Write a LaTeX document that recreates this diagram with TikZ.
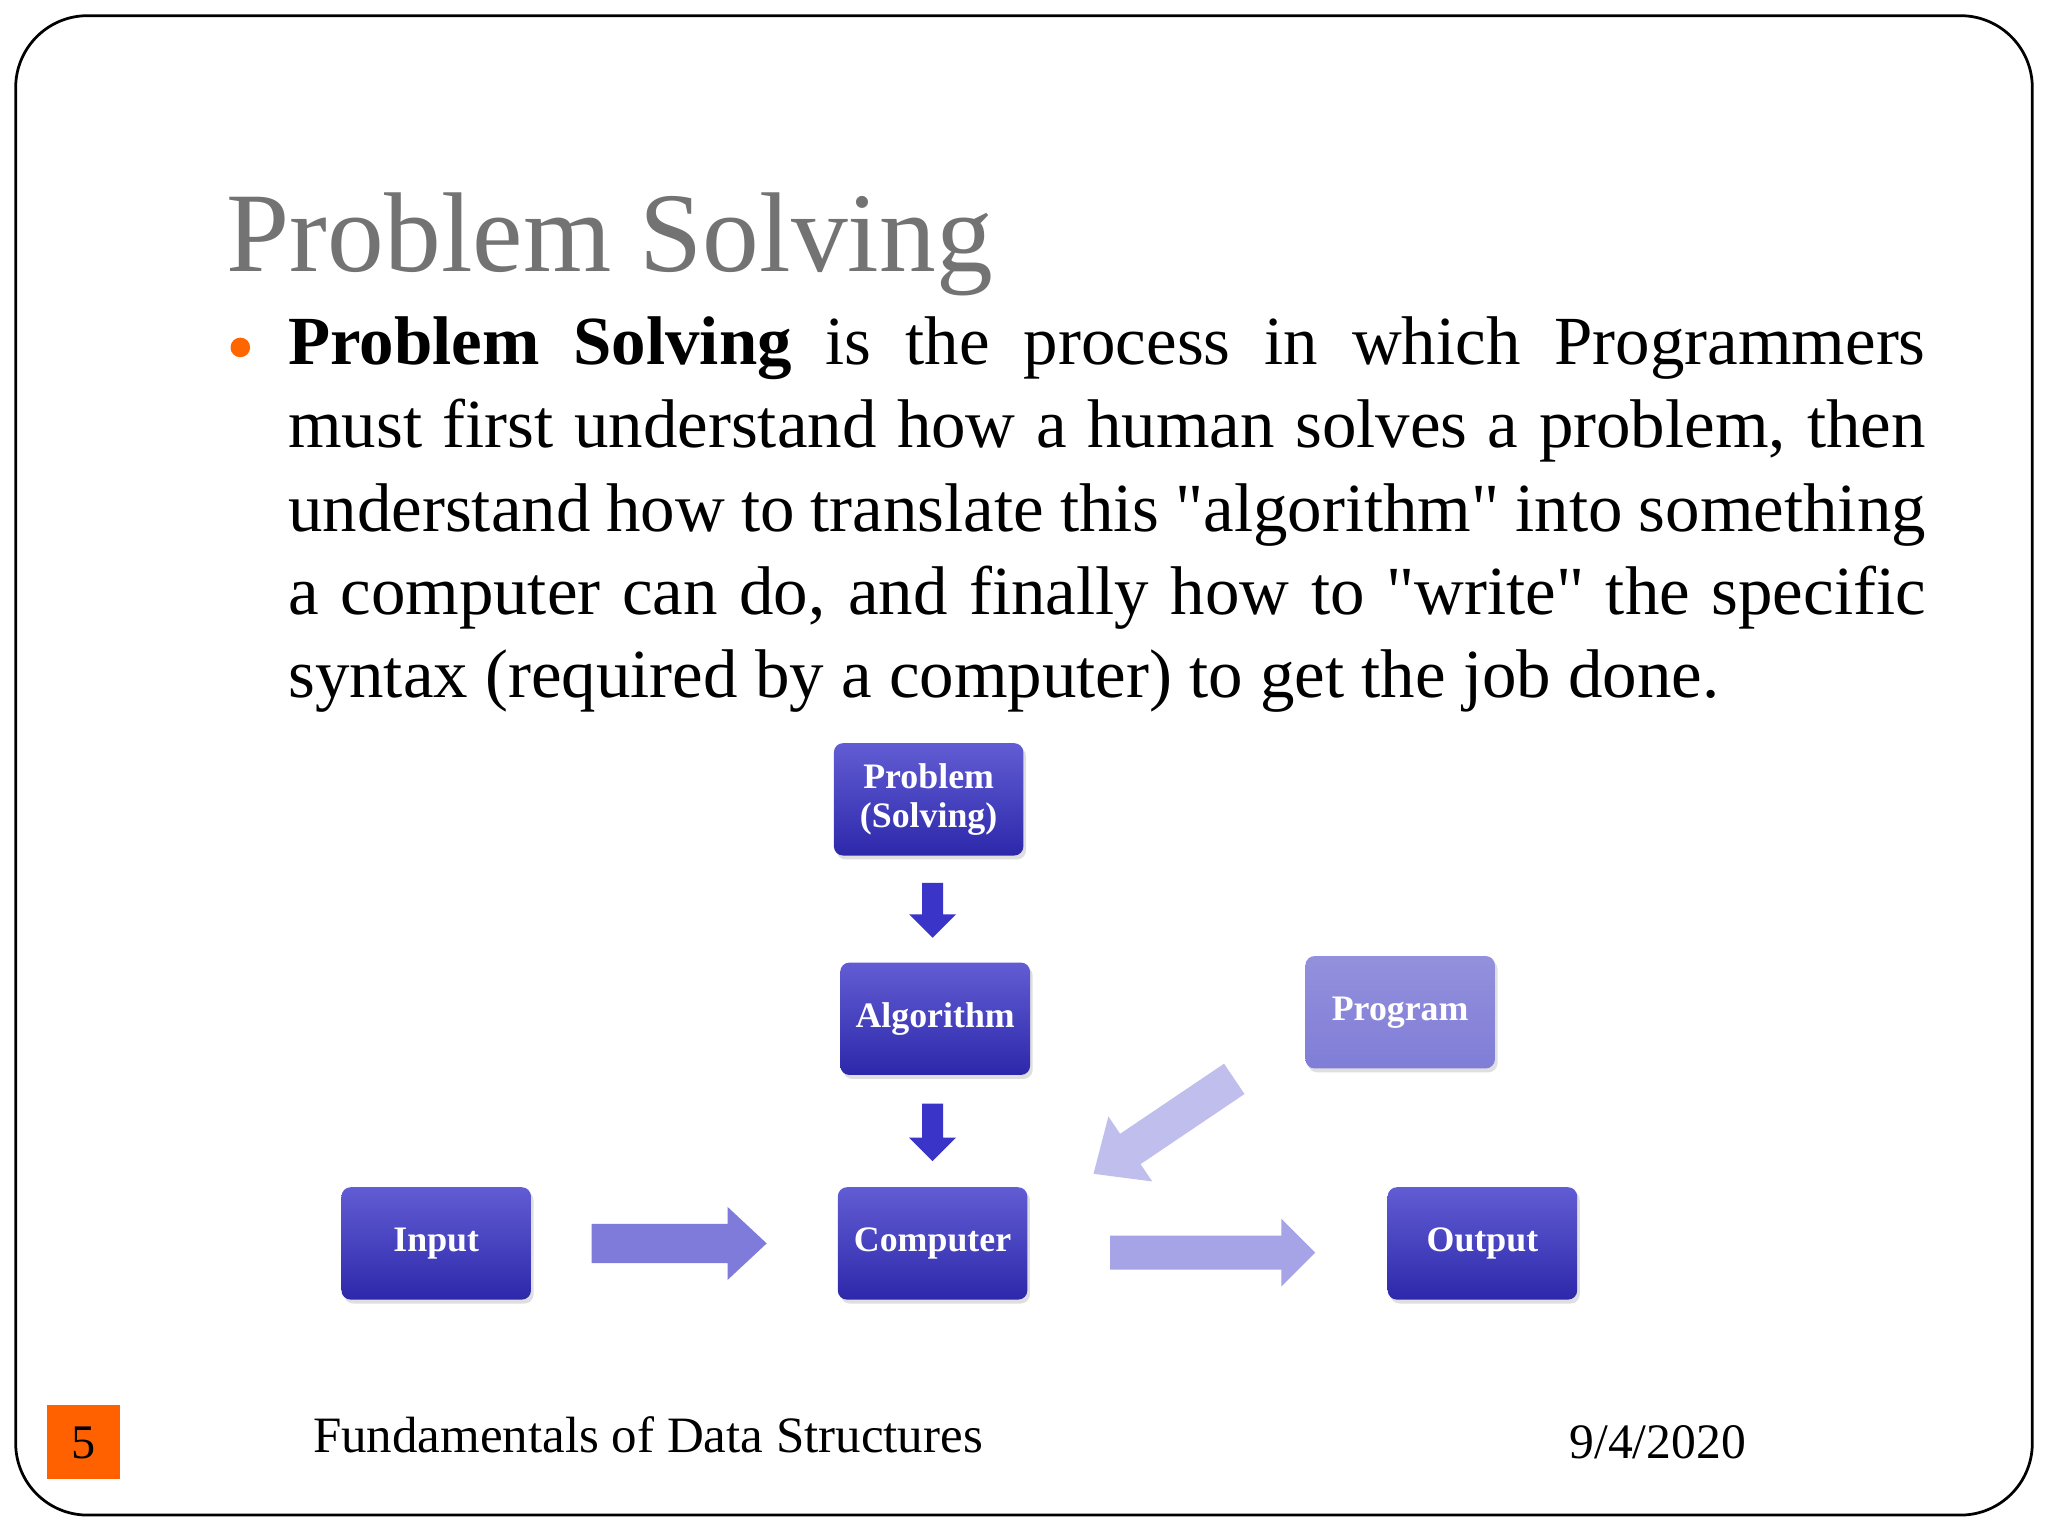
\documentclass[tikz,border=0pt]{standalone}
\usepackage{fontspec}
\setmainfont{Liberation Serif}[Ligatures=TeXOff]
\usetikzlibrary{shadows}
\definecolor{boxA}{RGB}{58,52,200}
\definecolor{boxB}{RGB}{45,40,170}
\definecolor{progA}{RGB}{128,125,215}
\hyphenpenalty=10000
\exhyphenpenalty=10000
\newcommand{\blkarrow}[8]{% x y angle length shafthalf headhalf headlen color
 \begin{scope}[shift={(#1,#2)},rotate=#3]
 \fill[#8] (0,-#5) -- (#4-#7,-#5) -- (#4-#7,-#6) -- (#4,0) -- (#4-#7,#6) -- (#4-#7,#5) -- (0,#5) -- cycle;
 \end{scope}}
\begin{document}
\begin{tikzpicture}[x=0.01cm,y=-0.01cm,
 blk/.style={rounded corners=2pt,minimum width=1.45cm,minimum height=0.86cm,align=center,text=white,font=\fontsize{7.8}{8.5}\selectfont\bfseries,top color=boxA!80!white,bottom color=boxB,drop shadow={opacity=0.25,shadow xshift=0.02cm,shadow yshift=-0.03cm}}]
\useasboundingbox (0,0) rectangle (1568,1176);
\draw[rounded corners=0.55cm,line width=0.6pt,fill=white] (12,12) rectangle (1556,1160);
\node[anchor=base west,text=gray!90!black,font=\fontsize{24.7}{28}\selectfont,inner sep=0] (title) at (173,208) {Problem Solving};
\fill[orange!80!red] (184,266) circle (0.075cm);
\node[anchor=north west,text width=12.53cm,inner sep=0,font=\fontsize{15}{18.1}\selectfont,align=justify] (body) at (220,242)
{\textbf{Problem Solving} is the process in which Programmers must first understand how a human solves a problem, then understand how to translate this "algorithm" into something a computer can do, and finally how to "write" the specific syntax (required by a computer) to get the job done.};
\node[blk] (prob) at (711,612) {Problem\\(Solving)};
\node[blk] (alg) at (716,780) {Algorithm};
\node[blk] (comp) at (714,952) {Computer};
\node[blk] (inp) at (334,952) {Input};
\node[blk] (out) at (1135,952) {Output};
\node[blk,top color=progA!85!white,bottom color=progA] (prog) at (1072,775) {Program};
\blkarrow{714}{676}{270}{42}{8}{18}{18}{boxA}
\blkarrow{714}{845}{270}{44}{8}{18}{18}{boxA}
\blkarrow{453}{952}{0}{134}{15}{28}{30}{boxA!65!white}
\blkarrow{850}{959}{0}{157}{13}{26}{26}{boxA!45!white}
\blkarrow{945}{826}{214}{130}{14}{30}{34}{boxA!32!white}
\fill[orange!75!red] (36,1076) rectangle (92,1132);
\node[font=\fontsize{10.5}{12}\selectfont] (pg) at (64,1105) {5};
\node[anchor=base west,inner sep=0,font=\fontsize{11.1}{12}\selectfont] (ft) at (239,1112) {Fundamentals of Data Structures};
\node[anchor=base west,inner sep=0,font=\fontsize{10.8}{12}\selectfont] (dt) at (1201,1117) {9/4/2020};
\end{tikzpicture}
\end{document}
